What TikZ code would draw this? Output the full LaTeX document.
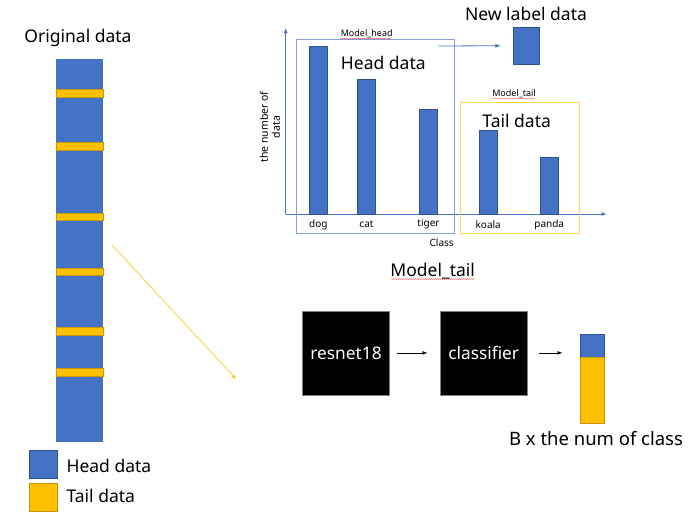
\documentclass[tikz,border=0pt]{standalone}
\usepackage{fontspec}
\setmainfont{Noto Sans}
\usetikzlibrary{arrows, decorations.pathmorphing}
\definecolor{headblue}{HTML}{4472C4}
\definecolor{headedge}{HTML}{2F528F}
\definecolor{tailyellow}{HTML}{FFC000}
\definecolor{tailedge}{HTML}{C99700}

\begin{document}
\begin{tikzpicture}[x=1pt, y=-1pt,
    big/.style = {font=\fontsize{17.5}{20}\selectfont},
    mid/.style = {font=\fontsize{17.5}{20}\selectfont},
    small/.style = {font=\fontsize{10}{12}\selectfont},
    tiny/.style = {font=\fontsize{9}{10}\selectfont},
    bar/.style = {fill=headblue, draw=headedge, line width=0.5pt},
    block/.style = {draw=gray, fill=black, text=white, minimum width=86.7pt, minimum height=84.3pt, font=\fontsize{17.3}{20}\selectfont},
    spell/.style = {red!80, line width=0.3pt, decorate, decoration={snake, amplitude=0.5pt, segment length=2pt}}]
    \useasboundingbox (0,0) rectangle (700,518);

    % original data column
    \node[big] at (78,38) (orig) {Original data};
    \fill[headblue] (56,59) rectangle (103,442);
    \foreach \y in {93,146,216.5,271.5,331,372}
        \draw[fill=tailyellow, draw=tailedge, line width=0.2pt] (56,\y-3.8) rectangle (103,\y+3.8);

    % legend
    \node[draw=headedge, fill=headblue, minimum size=28pt, inner sep=0] at (43,464) (legH) {};
    \node[draw=tailedge, fill=tailyellow, minimum size=28pt, inner sep=0] at (43,497) (legT) {};
    \node[big, anchor=west] at (63,466) (legHtxt) {Head data};
    \node[big, anchor=west] at (63,496) (legTtxt) {Tail data};

    \coordinate (pick) at (112,245);
    \coordinate (pickend) at (236,379);
    \draw [-latex, tailyellow, line width=0.6pt] (pick) -- (pickend);

    % bar chart
    \coordinate (O) at (285.7,214);
    \coordinate (ytop) at (285.7,28);
    \coordinate (xend) at (606.7,214);
    \draw [-latex, headblue, line width=0.8pt] (O) -- (ytop);
    \draw [-latex, headblue, line width=0.8pt] (O) -- (xend);
    \node[small, rotate=90, align=center, font=\fontsize{10.5}{12}\selectfont] at (270,127) (ylabel) {the number of\\data};
    \node[small] at (441.7,243) (xlabel) {Class};

    \foreach \n/\x/\t in {dog/318.3/46, cat/366.5/79.3, tiger/428.5/109, koala/488.2/130.7, panda/549.2/157.7} {
        \fill[bar] (\x-9,\t) rectangle (\x+9,214);
        \node[small] at (\x,224.5) (lbl-\n) {\n};
    }

    \draw[headblue!65, line width=0.9pt] (296.7,39) rectangle (454.3,233.3);
    \draw[tailyellow!65, line width=0.9pt] (460.7,102.3) rectangle (579,233.3);
    \node[tiny] at (366.7,34) (mhead) {Model\_head};
    \draw[spell] (mhead.south west) ++(3,-3) -- ++(50,0);
    \node[tiny] at (514,94) (mtail) {Model\_tail};
    \draw[spell] (mtail.south west) ++(3,-3) -- ++(43,0);
    \node[big] at (383.3,62.5) (headtxt) {Head data};
    \node[big] at (516.7,121) (tailtxt) {Tail data};

    % new label
    \node[big] at (526,14) (newtxt) {New label data};
    \node[fill=headblue, draw=headedge, line width=0.4pt, minimum width=26pt, minimum height=36.7pt, inner sep=0] at (526.3,45.7) (newlbl) {};
    \coordinate (hstart) at (438.3,46);
    \draw [-latex, headblue, line width=0.8pt, shorten >=12.5pt] (hstart) -- (newlbl.west);

    % model tail pipeline
    \node[mid] at (432.7,271.5) (mtitle) {Model\_tail};
    \draw[spell] (mtitle.south west) ++(4,-4) -- ++(84,0);
    \node[block] at (346,352.9) (resnet) {resnet18};
    \node[block] at (483.7,352.9) (clf) {classifier};
    \node[fill=headblue, draw=headedge, line width=0.4pt, minimum width=24pt, minimum height=22.4pt, inner sep=0] at (592,345.5) (outH) {};
    \node[fill=tailyellow, draw=tailedge, line width=0.4pt, minimum width=24pt, minimum height=66pt, inner sep=0, anchor=north] at (outH.south) (outT) {};
    \node[mid, font=\fontsize{18.5}{20}\selectfont] at (596,438.3) (outtxt) {B x the num of class};

    \draw [-latex, line width=0.7pt, shorten <=7.7pt, shorten >=12.6pt] (resnet) -- (clf);
    \draw [-latex, line width=0.7pt, shorten <=12pt, shorten >=17.3pt] (clf.east) -- (clf.east -| outH.west);
\end{tikzpicture}
\end{document}
